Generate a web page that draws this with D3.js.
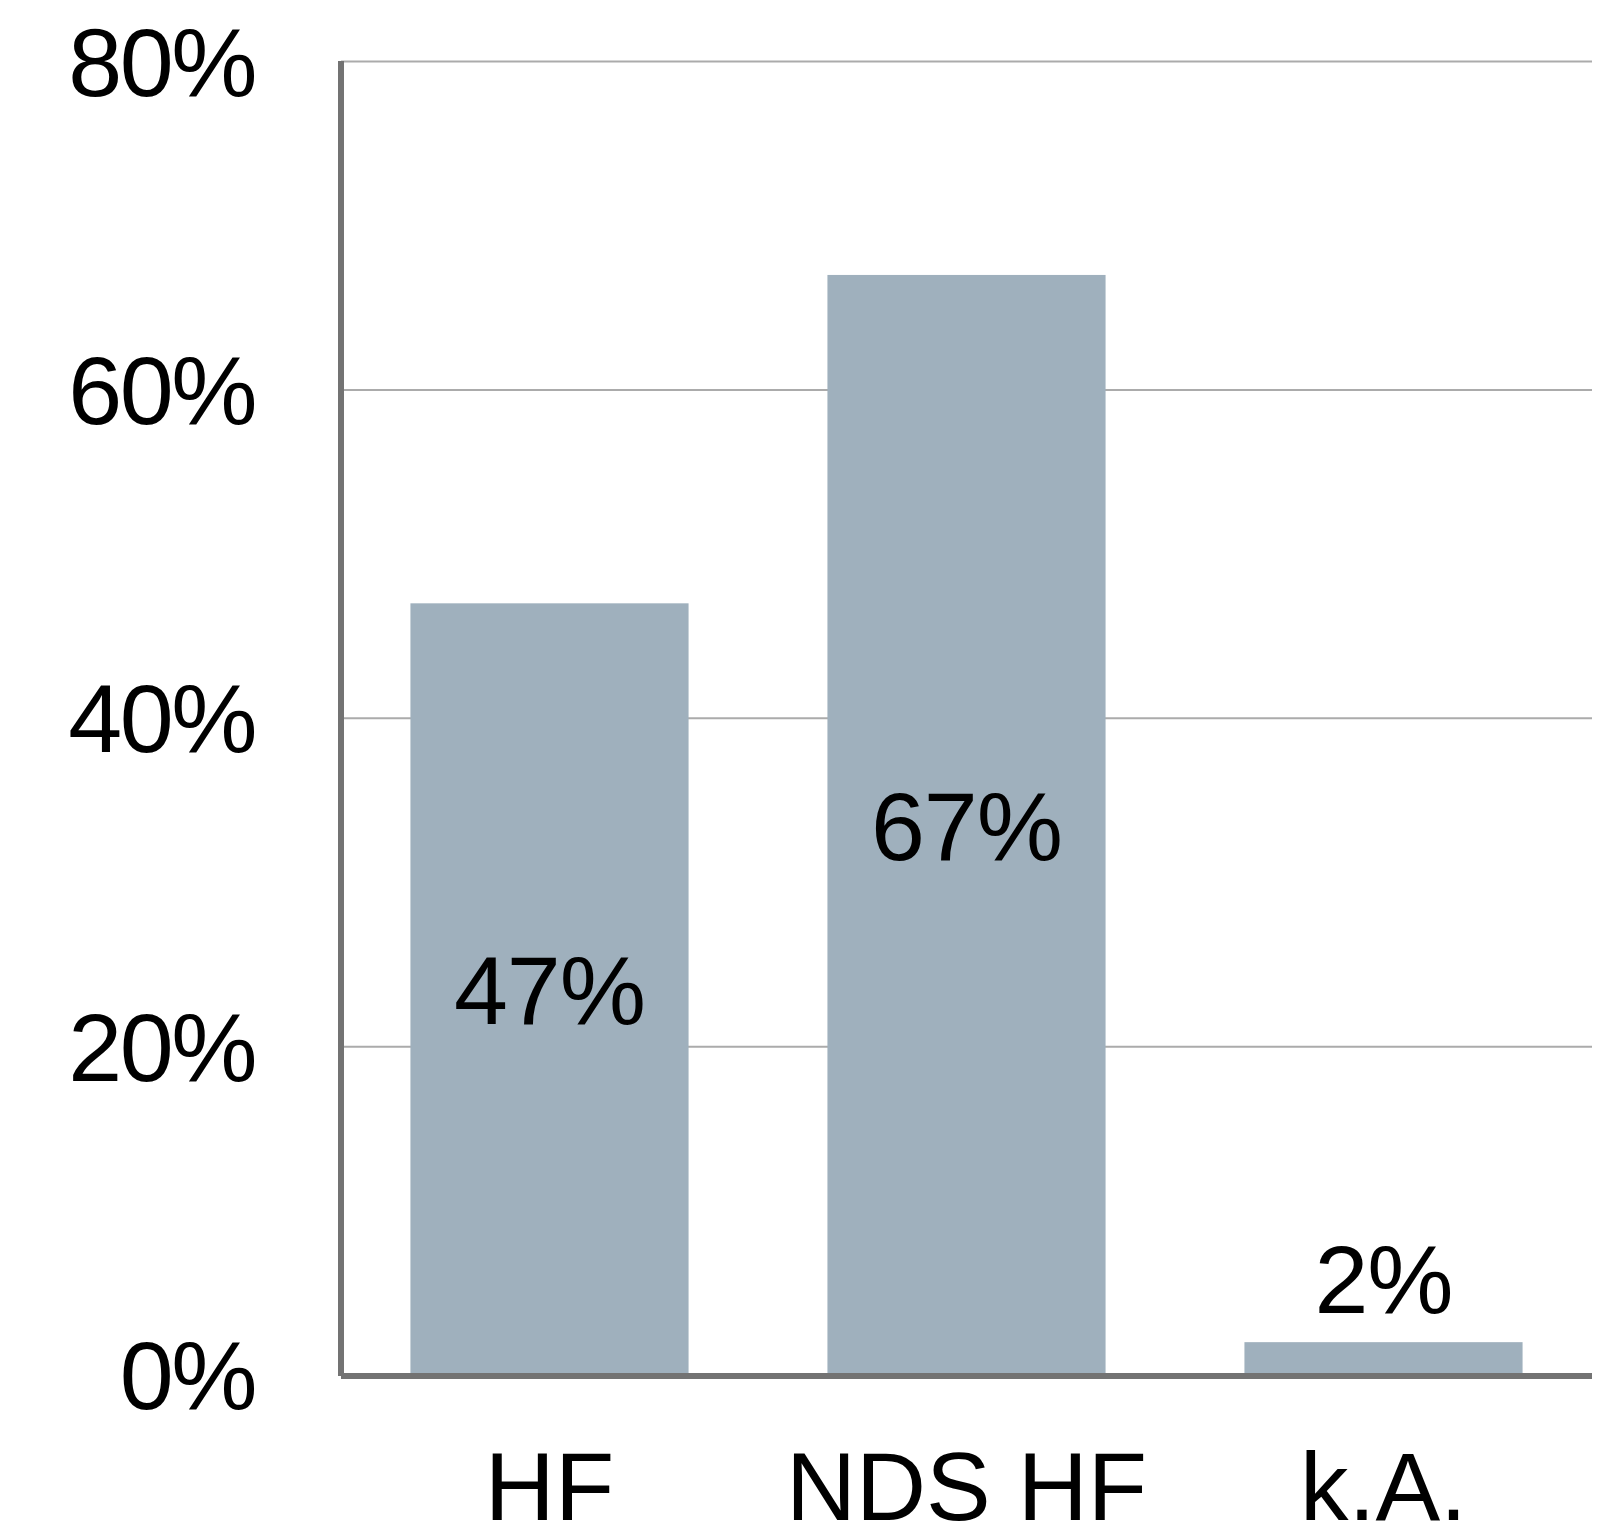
<!DOCTYPE html>
<html>
<head>
<meta charset="utf-8">
<script src="https://cdn.jsdelivr.net/npm/d3@7"></script>
<style>
  html, body { margin: 0; padding: 0; background: #fff; }
  svg { display: block; }
  text { font-family: "Liberation Sans", Arial, Helvetica, sans-serif; fill: #000; }
</style>
</head>
<body>
<svg id="chart" width="1614" height="1536"></svg>
<script>
// Share of responses per category
const categories = ["HF", "NDS HF", "k.A."];
const values = [47, 67, 2];
const valueLabels = ["47%", "67%", "2%"];
const yTicks = [0, 20, 40, 60, 80];
const yTickLabels = ["0%", "20%", "40%", "60%", "80%"];

const svg = d3.select("#chart");

const plotLeft = 341, plotRight = 1592, plotTop = 61.5, plotBottom = 1375;
const fontSize = 97;

const x = d3.scaleBand()
  .domain(categories)
  .range([plotLeft, plotRight])
  .paddingInner(0.333)
  .paddingOuter(0.1665);

const y = d3.scaleLinear()
  .domain([0, 80])
  .range([plotBottom, plotTop]);

// horizontal gridlines
svg.append("g")
  .selectAll("line")
  .data(yTicks.filter(d => d > 0))
  .join("line")
  .attr("x1", plotLeft)
  .attr("x2", plotRight)
  .attr("y1", d => y(d))
  .attr("y2", d => y(d))
  .attr("stroke", "#ababab")
  .attr("stroke-width", 2);

// bars
svg.append("g")
  .selectAll("rect")
  .data(values)
  .join("rect")
  .attr("x", (d, i) => x(categories[i]))
  .attr("width", x.bandwidth())
  .attr("y", d => y(d))
  .attr("height", d => y(0) - y(d))
  .attr("fill", "#9fb0bd");

// axis lines
svg.append("line")
  .attr("x1", plotLeft).attr("x2", plotLeft)
  .attr("y1", plotTop - 0.5).attr("y2", plotBottom + 1)
  .attr("stroke", "#737373").attr("stroke-width", 6);
svg.append("line")
  .attr("x1", plotLeft).attr("x2", plotRight)
  .attr("y1", plotBottom + 1).attr("y2", plotBottom + 1)
  .attr("stroke", "#737373").attr("stroke-width", 6);

// y tick labels
svg.append("g")
  .selectAll("text")
  .data(yTicks)
  .join("text")
  .attr("x", 255)
  .attr("y", d => y(d) + 34)
  .attr("text-anchor", "end")
  .attr("font-size", fontSize)
  .attr("letter-spacing", -2.5)
  .text((d, i) => yTickLabels[i]);

// category labels
svg.append("g")
  .selectAll("text")
  .data(categories)
  .join("text")
  .attr("x", d => x(d) + x.bandwidth() / 2)
  .attr("y", 1520)
  .attr("text-anchor", "middle")
  .attr("font-size", fontSize)
  .text(d => d);

// value labels: centred inside tall bars, above short ones
svg.append("g")
  .selectAll("text")
  .data(values)
  .join("text")
  .attr("x", (d, i) => x(categories[i]) + x.bandwidth() / 2)
  .attr("y", d => {
    const top = y(d), bottom = y(0);
    return (bottom - top) > 150 ? (top + bottom) / 2 + 35 : top - 29;
  })
  .attr("text-anchor", "middle")
  .attr("font-size", fontSize)
  .attr("letter-spacing", -1)
  .text((d, i) => valueLabels[i]);
</script>
</body>
</html>
